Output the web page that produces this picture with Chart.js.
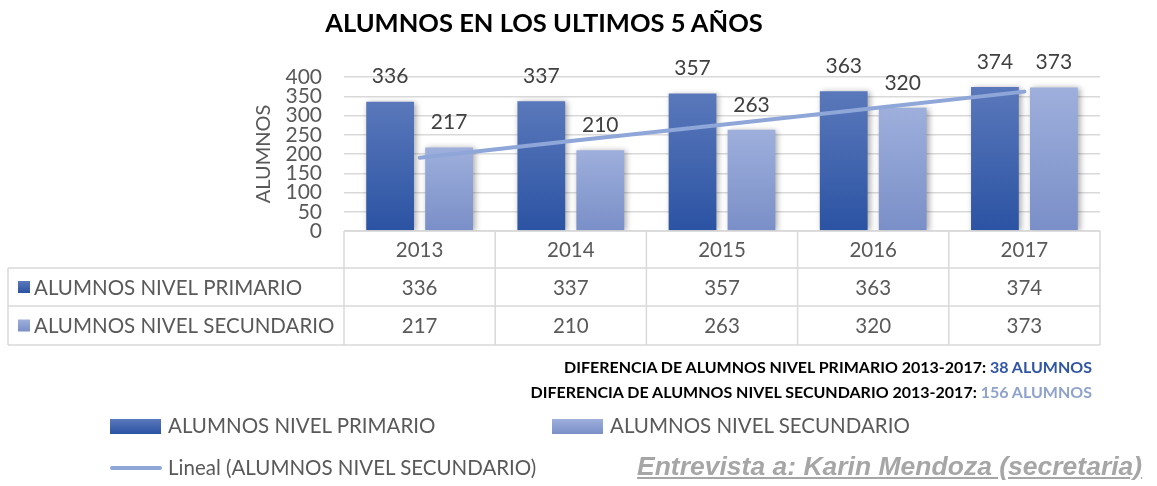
<!DOCTYPE html>
<html>
<head>
<meta charset="utf-8">
<script src="https://cdn.jsdelivr.net/npm/chart.js@4"></script>
<style>
  html, body { margin: 0; padding: 0; background: #fff; }
  #wrap { position: relative; width: 1157px; height: 486px; overflow: hidden; font-family: Lato, "Open Sans", sans-serif; }
  #c { position: absolute; left: 0; top: 0; }
  .abs { position: absolute; white-space: nowrap; line-height: 1.2; }
  #title { left: 0; width: 1088px; top: 7px; text-align: center; font-weight: bold; font-size: 25.5px; color: #000; }
  .note { right: 65px; font-weight: bold; font-size: 16px; color: #000; }
  .leg { font-size: 20.5px; color: #595959; }
  .sw { position: absolute; }
  #src { left: 637px; top: 452px; font-family: "Liberation Sans", Arial, sans-serif; font-style: italic; font-weight: bold; font-size: 26.5px; color: #a6a6a6; text-decoration: underline; line-height: 1.1; }
</style>
</head>
<body>
<div id="wrap">
  <canvas id="c" width="1157" height="486"></canvas>
  <div id="title" class="abs"></div>
  <div id="note1" class="abs note" style="top:357px"></div>
  <div id="note2" class="abs note" style="top:382px"></div>
  <div id="leg1sw" class="sw" style="left:110px;top:419px;width:51px;height:15px;"></div>
  <div id="leg1" class="abs leg" style="left:168px;top:413px"></div>
  <div id="leg2sw" class="sw" style="left:552px;top:419px;width:51px;height:15px;"></div>
  <div id="leg2" class="abs leg" style="left:610px;top:413px"></div>
  <div id="leg3sw" class="sw" style="left:110px;top:466px;width:52px;height:4px;border-radius:2px;"></div>
  <div id="leg3" class="abs leg" style="left:168px;top:455px"></div>
  <div id="src" class="abs"></div>
</div>
<script>
// ---- data ----
const categories = ['2013', '2014', '2015', '2016', '2017'];
const primario = [336, 337, 357, 363, 374];
const secundario = [217, 210, 263, 320, 373];
// linear trend of the secondary series at each year
const tendencia = [190, 234, 276, 319, 362];
const yTicks = [0, 50, 100, 150, 200, 250, 300, 350, 400];
const seriesNames = ['ALUMNOS NIVEL PRIMARIO', 'ALUMNOS NIVEL SECUNDARIO', 'Lineal (ALUMNOS NIVEL SECUNDARIO)'];
const chartTitle = 'ALUMNOS EN LOS ULTIMOS 5 AÑOS';
const yTitle = 'ALUMNOS';
const notes = [
  ['DIFERENCIA DE ALUMNOS NIVEL PRIMARIO 2013-2017', '38 ALUMNOS'],
  ['DIFERENCIA DE ALUMNOS NIVEL SECUNDARIO 2013-2017', '156 ALUMNOS']
];
const sourceText = 'Entrevista a: Karin Mendoza (secretaria)';

// ---- colours ----
const C1 = ['#5a78bb', '#2b53a3'];
const C2 = ['#9eafdc', '#7a8fc8'];
const trendColor = '#8fa6d8';
const textColor = '#595959';
const gridColor = '#d9d9d9';
const FONT = 'Lato, "Open Sans", sans-serif';

// ---- HTML texts ----
document.getElementById('title').textContent = chartTitle;
document.getElementById('note1').innerHTML = notes[0][0] + ': <span style="color:#2f55a4">' + notes[0][1] + '</span>';
document.getElementById('note2').innerHTML = notes[1][0] + ': <span style="color:#8ea2cc">' + notes[1][1] + '</span>';
document.getElementById('leg1').textContent = seriesNames[0];
document.getElementById('leg2').textContent = seriesNames[1];
document.getElementById('leg3').textContent = seriesNames[2];
document.getElementById('leg1sw').style.background = 'linear-gradient(' + C1[0] + ',' + C1[1] + ')';
document.getElementById('leg2sw').style.background = 'linear-gradient(' + C2[0] + ',' + C2[1] + ')';
document.getElementById('leg3sw').style.background = trendColor;
document.getElementById('src').textContent = sourceText;

function barGrad(cols) {
  return function (ctx) {
    const chart = ctx.chart;
    if (!chart.chartArea || ctx.type !== 'data') return cols[1];
    const y = chart.scales.y;
    const top = y.getPixelForValue(ctx.raw);
    const base = y.getPixelForValue(0);
    const g = chart.ctx.createLinearGradient(0, top, 0, base);
    g.addColorStop(0, cols[0]);
    g.addColorStop(1, cols[1]);
    return g;
  };
}

const shadowPlugin = {
  id: 'shadow',
  beforeDatasetDraw(chart, args) {
    if (chart.data.datasets[args.index].type === 'line') return;
    const c = chart.ctx;
    c.save();
    c.shadowColor = 'rgba(0,0,0,0.35)';
    c.shadowBlur = 6;
    c.shadowOffsetX = 2;
    c.shadowOffsetY = 1;
  },
  afterDatasetDraw(chart, args) {
    if (chart.data.datasets[args.index].type === 'line') return;
    chart.ctx.restore();
  }
};

const labelsPlugin = {
  id: 'barLabels',
  afterDatasetsDraw(chart) {
    const c = chart.ctx;
    c.save();
    c.font = '21px ' + FONT;
    c.fillStyle = '#404040';
    c.textAlign = 'center';
    c.textBaseline = 'middle';
    chart.data.datasets.forEach((ds, di) => {
      if (ds.type === 'line') return;
      const meta = chart.getDatasetMeta(di);
      meta.data.forEach((bar, i) => {
        c.fillText(String(ds.data[i]), bar.x, bar.y - 25);
      });
    });
    c.restore();
  }
};

const tablePlugin = {
  id: 'dataTable',
  afterDraw(chart) {
    const c = chart.ctx;
    const x = chart.scales.x;
    const area = chart.chartArea;
    const step = x.getPixelForValue(1) - x.getPixelForValue(0);
    const left = x.getPixelForValue(0) - step / 2;
    const right = x.getPixelForValue(categories.length - 1) + step / 2;
    const tableLeft = 8;
    const y0 = area.bottom, y1 = y0 + 37, y2 = y1 + 38, y3 = y2 + 39;
    c.save();
    c.strokeStyle = gridColor;
    c.lineWidth = 1.5;
    c.beginPath();
    c.moveTo(left, y0); c.lineTo(right, y0);
    [y1, y2, y3].forEach(yy => { c.moveTo(tableLeft, yy); c.lineTo(right, yy); });
    for (let i = 0; i <= categories.length; i++) {
      const xx = left + step * i;
      c.moveTo(xx, y0); c.lineTo(xx, y3);
    }
    c.moveTo(tableLeft, y1); c.lineTo(tableLeft, y3);
    c.stroke();

    c.font = '20.5px ' + FONT;
    c.fillStyle = textColor;
    c.textAlign = 'center';
    c.textBaseline = 'middle';
    const rows = [[categories, (y0 + y1) / 2 + 1], [primario, (y1 + y2) / 2 + 1], [secundario, (y2 + y3) / 2 + 1]];
    rows.forEach(([vals, yy]) => {
      vals.forEach((v, i) => c.fillText(String(v), x.getPixelForValue(i), yy));
    });
    // row headers with swatches
    [[seriesNames[0], C1, (y1 + y2) / 2], [seriesNames[1], C2, (y2 + y3) / 2]].forEach(([name, cols, yy]) => {
      const g = c.createLinearGradient(0, yy - 6, 0, yy + 6);
      g.addColorStop(0, cols[0]); g.addColorStop(1, cols[1]);
      c.fillStyle = g;
      c.fillRect(18, yy - 6, 12, 12);
      c.fillStyle = textColor;
      c.textAlign = 'left';
      c.fillText(name, 34, yy + 1);
    });
    c.restore();
  }
};

new Chart(document.getElementById('c'), {
  data: {
    labels: categories,
    datasets: [
      { type: 'line', label: seriesNames[2], data: tendencia, borderColor: trendColor, borderWidth: 4,
        pointRadius: 0, borderCapStyle: 'round', order: 0, tension: 0 },
      { type: 'bar', label: seriesNames[0], data: primario, backgroundColor: barGrad(C1), order: 1,
        categoryPercentage: 0.78, barPercentage: 0.81 },
      { type: 'bar', label: seriesNames[1], data: secundario, backgroundColor: barGrad(C2), order: 1,
        categoryPercentage: 0.78, barPercentage: 0.81 }
    ]
  },
  options: {
    responsive: false,
    animation: false,
    devicePixelRatio: 1,
    layout: { padding: { top: 77, left: 252, right: 57, bottom: 0 } },
    plugins: { legend: { display: false }, tooltip: { enabled: false }, title: { display: false } },
    scales: {
      x: {
        grid: { display: false },
        border: { display: false },
        ticks: { display: false },
        afterFit(scale) { scale.height = 255; }
      },
      y: {
        min: 0, max: 400,
        afterBuildTicks(scale) { scale.ticks = yTicks.map(v => ({ value: v })); },
        afterFit(scale) { scale.width = 92; },
        grid: { color: gridColor, lineWidth: 1.5, drawTicks: false },
        border: { display: false },
        ticks: { padding: 22, color: textColor, autoSkip: false, font: { family: FONT, size: 21, lineHeight: 1 } },
        title: { display: true, text: yTitle, color: textColor, font: { family: FONT, size: 20 }, padding: { top: 0, bottom: 0 } }
      }
    }
  },
  plugins: [shadowPlugin, labelsPlugin, tablePlugin]
});
</script>
</body>
</html>
